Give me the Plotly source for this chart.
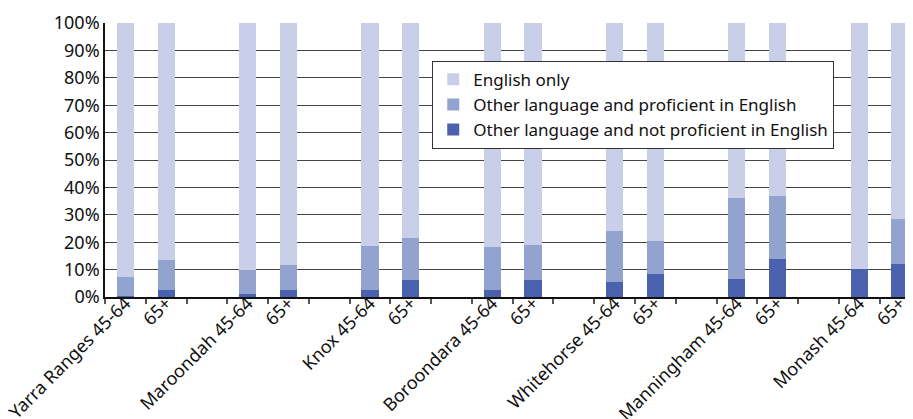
import plotly.graph_objects as go

areas = ["Yarra Ranges", "Maroondah", "Knox", "Boroondara", "Whitehorse", "Manningham", "Monash"]
ages = ["45-64", "65+"]
tick_labels = ["Yarra Ranges 45-64", "65+", "Maroondah 45-64", "65+", "Knox 45-64", "65+",
               "Boroondara 45-64", "65+", "Whitehorse 45-64", "65+", "Manningham 45-64", "65+",
               "Monash 45-64", "65+"]

not_proficient = [0.4, 2.6, 1.1, 2.6, 2.6, 6.2, 2.6, 6.2, 5.5, 8.4, 6.6, 13.9, 10.3, 12.1]
proficient = [6.9, 10.9, 8.8, 9.1, 16.1, 15.4, 15.7, 12.8, 18.7, 12.1, 29.7, 23.1, 0.0, 16.5]
english_only = [92.7, 86.5, 90.1, 88.3, 81.3, 78.4, 81.7, 81.0, 75.8, 79.5, 63.7, 63.0, 89.7, 71.4]

# slot positions: two bars per area with an empty slot between areas
xpos = [g * 3 + j for g in range(len(areas)) for j in range(len(ages))]

FONT = "Noto Sans"
fig = go.Figure()
fig.add_trace(go.Bar(x=xpos, y=not_proficient, name="Other language and not proficient in English",
                     marker=dict(color="#4A62AE", line=dict(width=0))))
fig.add_trace(go.Bar(x=xpos, y=proficient, name="Other language and proficient in English",
                     marker=dict(color="#93A3CF", line=dict(width=0))))
fig.add_trace(go.Bar(x=xpos, y=english_only, name="English only",
                     marker=dict(color="#C9CFE8", line=dict(width=0))))

fig.update_layout(
    barmode="stack",
    bargap=0.58,
    width=905, height=411,
    margin=dict(l=97, r=0, t=15, b=122, autoexpand=False),
    paper_bgcolor="white", plot_bgcolor="white",
    font=dict(family=FONT, size=17, color="#111"),
    showlegend=True,
    legend=dict(x=0.405, y=0.862, xanchor="left", yanchor="top",
                traceorder="reversed", bgcolor="white",
                bordercolor="#333", borderwidth=1,
                font=dict(family=FONT, size=17, color="#111"),
                tracegroupgap=0, itemwidth=30),
    xaxis=dict(
        range=[-0.5, 19.32], automargin=False,
        tickmode="array", tickvals=xpos, ticktext=tick_labels,
        tickangle=-45, ticks="", showgrid=False, zeroline=False,
        showline=True, linecolor="#111", linewidth=1.5,
        ticklabelstandoff=-13, ticklabeloverflow="allow",
        tickfont=dict(family=FONT, size=18, color="#111"),
        minor=dict(tick0=-0.5, dtick=1, ticks="outside", ticklen=5,
                   tickcolor="#555", tickwidth=1.5, showgrid=False),
    ),
    yaxis=dict(
        range=[0, 100], dtick=10, ticksuffix="%", automargin=False,
        showgrid=True, gridcolor="#444", gridwidth=1.2,
        zeroline=False, showline=True, linecolor="#111", linewidth=1.5,
        ticks="", tickfont=dict(family=FONT, size=18, color="#111"),
    ),
)

fig.write_html("out.html")
